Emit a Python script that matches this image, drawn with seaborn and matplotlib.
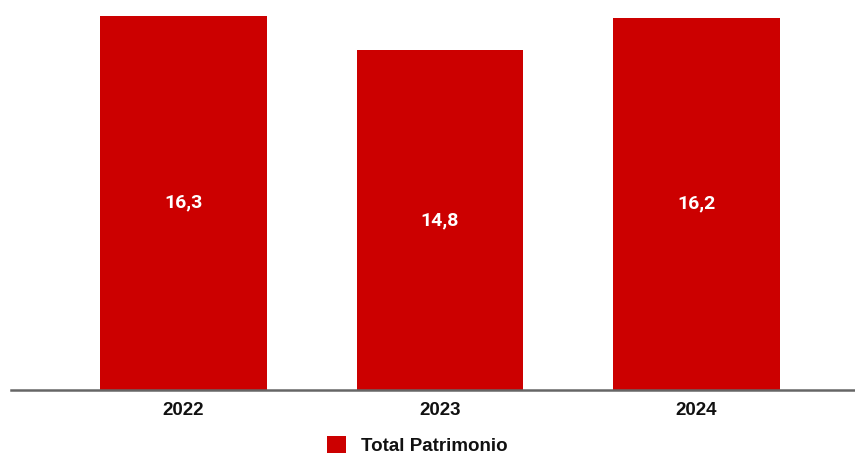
import matplotlib
matplotlib.use("Agg")
import matplotlib.pyplot as plt
import seaborn as sns
import pandas as pd
from matplotlib.patches import Patch

years = ["2022", "2023", "2024"]
values = [16.3, 14.8, 16.2]
value_labels = ["16,3", "14,8", "16,2"]
series_name = "Total Patrimonio"

bar_color = "#CC0000"

sns.set_theme(style="white")
plt.rcParams["font.family"] = ["Liberation Sans", "DejaVu Sans"]

df = pd.DataFrame({"year": years, "value": values})

fig = plt.figure(figsize=(8.55, 4.55), dpi=100)
ax = fig.add_axes([11 / 855, (455 - 389.5) / 455, 844 / 855, 389.5 / 455])

sns.barplot(data=df, x="year", y="value", color=bar_color, saturation=1,
            width=0.651, ax=ax)

for patch, lab in zip(ax.patches, value_labels):
    patch.set_edgecolor("none")
    cx = patch.get_x() + patch.get_width() / 2
    cy = patch.get_height() / 2
    ax.text(cx, cy, lab, ha="center", va="center", color="white",
            fontsize=14, fontweight="bold", family=["Roboto", "DejaVu Sans"])

ax.set_xlim(-0.6725, 2.618)
ax.set_ylim(0, 17.0)
ax.set_xlabel("")
ax.set_ylabel("")
ax.set_yticks([])
for side in ["top", "right", "left"]:
    ax.spines[side].set_visible(False)
ax.spines["bottom"].set_color("#666666")
ax.spines["bottom"].set_linewidth(1.8)
ax.tick_params(axis="x", length=0, pad=9, labelsize=13.5, labelcolor="#111111")
for t in ax.get_xticklabels():
    t.set_fontweight("bold")

fig.legend(handles=[Patch(facecolor=bar_color, edgecolor="none", label=series_name)],
           loc="center", bbox_to_anchor=(417 / 855, 9.5 / 455), frameon=False,
           handlelength=1.0, handleheight=1.0, handletextpad=0.8,
           borderpad=0.2,
           prop={"size": 13.5, "weight": "bold"}, labelcolor="#111111")

fig.savefig("out.png", dpi=100, facecolor="white")
